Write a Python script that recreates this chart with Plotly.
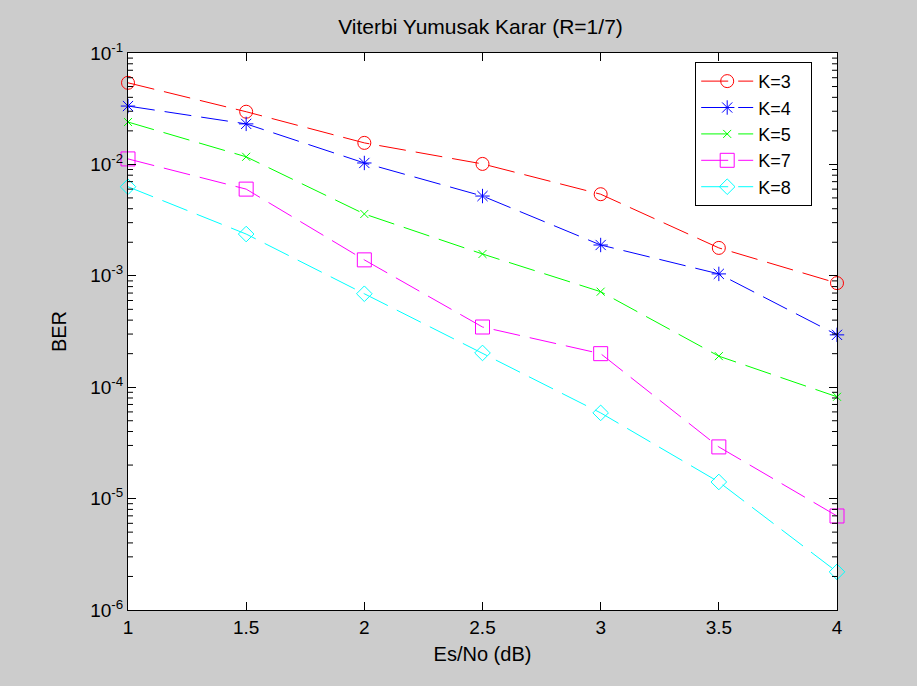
import math
import plotly.graph_objects as go

esno = [1, 1.5, 2, 2.5, 3, 3.5, 4]
ber_k3 = [0.054, 0.0297, 0.0156, 0.0101, 0.0054, 0.00178, 0.00086]
ber_k4 = [0.0334, 0.0231, 0.0103, 0.0052, 0.00189, 0.00104, 0.000295]
ber_k5 = [0.024, 0.0117, 0.00359, 0.00157, 0.00072, 0.00019, 0.000082]
ber_k7 = [0.0112, 0.006, 0.00139, 0.000347, 0.0002, 0.0000291, 0.00000698]
ber_k8 = [0.0063, 0.00237, 0.00069, 0.000203, 0.0000588, 0.0000141, 0.0000022]
names = ["K=3", "K=4", "K=5", "K=7", "K=8"]
ytick_vals = [1e-6, 1e-5, 1e-4, 1e-3, 1e-2, 1e-1]
ytick_text = ["10<sup>-6</sup>", "10<sup>-5</sup>", "10<sup>-4</sup>", "10<sup>-3</sup>",
              "10<sup>-2</sup>", "10<sup>-1</sup>"]
xtick_vals = [1, 1.5, 2, 2.5, 3, 3.5, 4]
minor_vals = [m * d for d in ytick_vals[:-1] for m in range(2, 10)]

series = [ber_k3, ber_k4, ber_k5, ber_k7, ber_k8]
colors = ["#FF0000", "#0000FF", "#00FF00", "#FF00FF", "#00FFFF"]
symbols = ["circle-open", "asterisk-open", "x-thin-open", "square-open", "diamond-open"]
sizes = [13, 12, 8, 14, 12]

W, H = 917, 686
ML, MR, MT, MB = 128, 80, 53, 76
ylog_lo, ylog_hi = -6, -1

fig = go.Figure()
for s, n, c, sym, sz in zip(series, names, colors, symbols, sizes):
    fig.add_trace(go.Scatter(
        x=esno, y=s, name=n + "\u00a0\u00a0\u00a0", mode="lines+markers",
        line=dict(color=c, width=1, dash="27px,10px"), cliponaxis=False,
        marker=dict(symbol=sym, size=sz, color=c, line=dict(color=c, width=1)),
    ))

# minor log ticks on left and right edges of the axes box
tick_frac = 5 / (W - ML - MR)
for v in minor_vals:
    py = (math.log10(v) - ylog_lo) / (ylog_hi - ylog_lo)
    for x0, x1 in ((0, tick_frac), (1 - tick_frac, 1)):
        fig.add_shape(type="line", xref="paper", yref="paper",
                      x0=x0, x1=x1, y0=py, y1=py,
                      line=dict(color="#000000", width=1), layer="above")

font = "Liberation Sans, Arial, sans-serif"
fig.update_layout(
    width=W, height=H,
    margin=dict(l=ML, r=MR, t=MT, b=MB),
    paper_bgcolor="#CCCCCC", plot_bgcolor="#FFFFFF",
    font=dict(family=font, size=19, color="#000000"),
    title=dict(text="Viterbi Yumusak Karar (R=1/7)", x=0.524, xanchor="center",
               y=1 - 27 / H, yanchor="middle",
               font=dict(family=font, size=21, color="#000000")),
    showlegend=True,
    legend=dict(x=0.80, y=0.984, xanchor="left", yanchor="top",
                bgcolor="#FFFFFF", bordercolor="#000000", borderwidth=1,
                font=dict(family=font, size=18, color="#000000"),
                tracegroupgap=0, itemwidth=52),
)
fig.update_xaxes(
    range=[1, 4], tickvals=xtick_vals, ticktext=[str(v) for v in xtick_vals],
    ticks="inside", ticklen=8, tickcolor="#000", showline=True, linecolor="#000",
    linewidth=1, mirror="ticks", showgrid=False, zeroline=False,
    tickfont=dict(family=font, size=19, color="#000000"),
    title=dict(text="Es/No (dB)", standoff=10,
               font=dict(family=font, size=20, color="#000000")),
)
fig.update_yaxes(
    type="log", range=[ylog_lo, ylog_hi], tickvals=ytick_vals, ticktext=ytick_text,
    ticks="inside", ticklen=8, tickcolor="#000", showline=True, linecolor="#000",
    linewidth=1, mirror="ticks", showgrid=False, zeroline=False,
    tickfont=dict(family=font, size=19, color="#000000"),
    title=dict(text="BER", standoff=18,
               font=dict(family=font, size=20, color="#000000")),
)
fig.write_html("out.html", config={"displayModeBar": False},
               post_script="document.body.style.margin='0';")
